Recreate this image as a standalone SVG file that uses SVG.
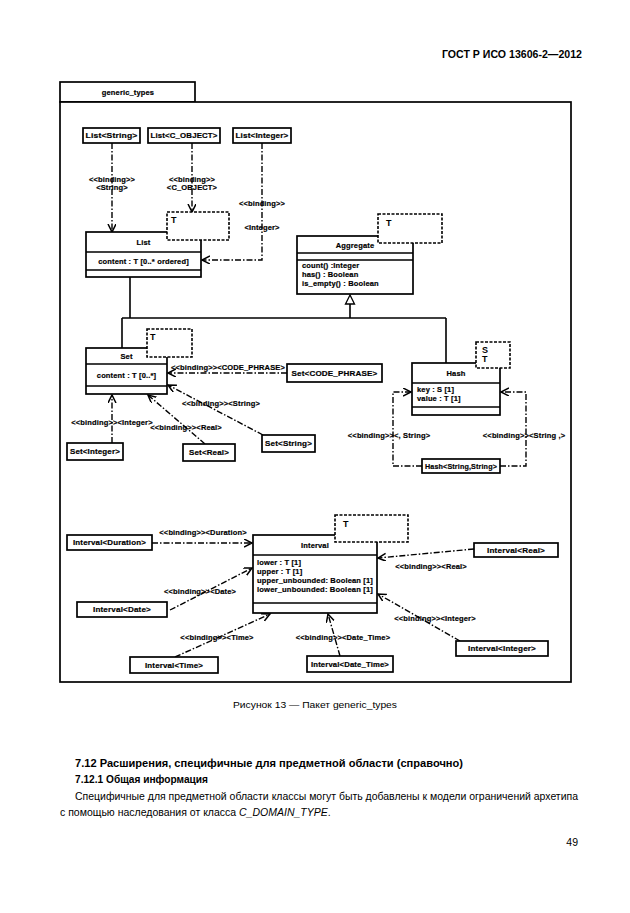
<svg xmlns="http://www.w3.org/2000/svg" width="630" height="913" viewBox="0 0 630 913">
<style>
.bg{fill:#fff}
.box{fill:#fff;stroke:#000;stroke-width:1.7}
.ln{fill:none;stroke:#000;stroke-width:1.4}
.tmpl{fill:#fff;stroke:#000;stroke-width:1.6;stroke-dasharray:3,1.5}
.dep{fill:none;stroke:#000;stroke-width:1.4;stroke-dasharray:6,2,1.5,2}
.gen{fill:none;stroke:#000;stroke-width:1.6}
.t{font-family:"Liberation Sans",Arial,sans-serif;font-size:7.5px;font-weight:bold;fill:#000;stroke:#000;stroke-width:0.2;letter-spacing:0.15px}
.tt{font-family:"Liberation Sans",Arial,sans-serif;font-size:9px;font-weight:bold;fill:#000}
.c{text-anchor:middle}
.cap{font-family:"Liberation Sans",Arial,sans-serif;font-size:9px;fill:#000}
.hd{font-family:"Liberation Sans",Arial,sans-serif;font-size:10.5px;font-weight:bold;fill:#000}
.bd{font-family:"Liberation Sans",Arial,sans-serif;font-size:10.5px;fill:#000}
.b{font-weight:bold}
</style>
<defs>
<marker id="arr" markerUnits="userSpaceOnUse" markerWidth="10" markerHeight="10" refX="8" refY="4" orient="auto">
<path d="M0,0 L8,4 L0,8" fill="none" stroke="#000" stroke-width="1.5"/>
</marker>
</defs>
<rect class="bg" x="0" y="0" width="630" height="913"/>
<text class="hd" x="582" y="58" text-anchor="end" textLength="140" lengthAdjust="spacingAndGlyphs">ГОСТ Р ИСО 13606-2—2012</text>

<g id="package">
<rect class="box" x="60" y="82" width="135" height="20"/>
<rect class="box" x="60" y="102" width="511" height="580" fill="none"/>
<text class="t c" x="128" y="95">generic_types</text>
</g>

<g id="connectors">
<path class="gen" d="M130,277 V318 M122,318 H446 M122,318 V348 M446,318 V363 M350,304 V318"/>
<polygon points="350,295 345.5,304 354.5,304" fill="#fff" stroke="#000" stroke-width="1.3"/>
<path class="dep" d="M112,143 V232" marker-end="url(#arr)"/>
<path class="dep" d="M192,143 V212" marker-end="url(#arr)"/>
<path class="dep" d="M262,143 V260 H202" marker-end="url(#arr)"/>
<path class="dep" d="M287,373 H168" marker-end="url(#arr)"/>
<path class="dep" d="M263,435 L168,385" marker-end="url(#arr)"/>
<path class="dep" d="M112,443 V395" marker-end="url(#arr)"/>
<path class="dep" d="M205,444 L148,395" marker-end="url(#arr)"/>
<path class="dep" d="M422,466 H393 V392 H411" marker-end="url(#arr)"/>
<path class="dep" d="M500,466 H526 V392 H501" marker-end="url(#arr)"/>
<path class="dep" d="M152,543 H252" marker-end="url(#arr)"/>
<path class="dep" d="M170,610 L252,568" marker-end="url(#arr)"/>
<path class="dep" d="M175,657 L270,614" marker-end="url(#arr)"/>
<path class="dep" d="M340,656 L328,614" marker-end="url(#arr)"/>
<path class="dep" d="M474,549 L378,558" marker-end="url(#arr)"/>
<path class="dep" d="M460,641 L378,594" marker-end="url(#arr)"/>
<g class="t c">
<text x="112" y="182">&lt;&lt;binding&gt;&gt;</text>
<text x="112" y="190">&lt;String&gt;</text>
<text x="192" y="182">&lt;&lt;binding&gt;&gt;</text>
<text x="192" y="190">&lt;C_OBJECT&gt;</text>
<text x="262" y="206">&lt;&lt;binding&gt;&gt;</text>
<text x="262" y="230">&lt;Integer&gt;</text>
<text x="228" y="370">&lt;&lt;binding&gt;&gt;&lt;CODE_PHRASE&gt;</text>
<text x="221" y="406">&lt;&lt;binding&gt;&gt;&lt;String&gt;</text>
<text x="112" y="425">&lt;&lt;binding&gt;&gt;&lt;Integer&gt;</text>
<text x="186" y="430">&lt;&lt;binding&gt;&gt;&lt;Real&gt;</text>
<text x="389" y="438">&lt;&lt;binding&gt;&gt;&lt;, String&gt;</text>
<text x="524" y="438">&lt;&lt;binding&gt;&gt;&lt;String ,&gt;</text>
<text x="203" y="535">&lt;&lt;binding&gt;&gt;&lt;Duration&gt;</text>
<text x="200" y="594">&lt;&lt;binding&gt;&gt;&lt;Date&gt;</text>
<text x="217" y="640">&lt;&lt;binding&gt;&gt;&lt;Time&gt;</text>
<text x="343" y="640">&lt;&lt;binding&gt;&gt;&lt;Date_Time&gt;</text>
<text x="431" y="569">&lt;&lt;binding&gt;&gt;&lt;Real&gt;</text>
<text x="435" y="621">&lt;&lt;binding&gt;&gt;&lt;Integer&gt;</text>
</g>
</g>

<g id="List">
<rect class="box" x="86" y="232" width="115" height="45"/>
<path class="ln" d="M86,252 H201 M86,270 H201"/>
<text class="t c" x="143.5" y="245">List</text>
<text class="t c" x="143.5" y="264">content : T [0..* ordered]</text>
<rect class="tmpl" x="167" y="212" width="62" height="28"/>
<text class="tt" x="171" y="223">T</text>
</g>

<g id="Aggregate">
<rect class="box" x="297" y="236" width="116" height="58"/>
<path class="ln" d="M297,253 H413 M297,260 H413"/>
<text class="t c" x="355" y="248">Aggregate</text>
<text class="t" x="302" y="268">count() :Integer</text>
<text class="t" x="302" y="277">has() : Boolean</text>
<text class="t" x="302" y="286">is_empty() : Boolean</text>
<rect class="tmpl" x="378" y="214" width="64" height="29"/>
<text class="tt" x="386" y="226">T</text>
</g>

<g id="Set">
<rect class="box" x="86" y="348" width="81" height="46"/>
<path class="ln" d="M86,364 H167 M86,386 H167"/>
<text class="t c" x="126.5" y="359">Set</text>
<text class="t c" x="126.5" y="378">content : T [0..*]</text>
<rect class="tmpl" x="147" y="329" width="45" height="28"/>
<text class="tt" x="150" y="340">T</text>
</g>

<g id="Hash">
<rect class="box" x="412" y="363" width="88" height="52"/>
<path class="ln" d="M412,383 H500 M412,407 H500"/>
<text class="t c" x="456" y="376">Hash</text>
<text class="t" x="417" y="392">key : S [1]</text>
<text class="t" x="417" y="401">value : T [1]</text>
<rect class="tmpl" x="476" y="342" width="34" height="26"/>
<text class="tt" x="482" y="352.5" font-size="8">S</text>
<text class="tt" x="482" y="362" font-size="8">T</text>
</g>

<g id="Interval">
<rect class="box" x="253" y="535" width="124" height="78"/>
<path class="ln" d="M253,555 H377 M253,603 H377"/>
<text class="t c" x="315" y="548">Interval</text>
<text class="t" x="257" y="565">lower : T [1]</text>
<text class="t" x="257" y="574">upper : T [1]</text>
<text class="t" x="257" y="583" textLength="116" lengthAdjust="spacingAndGlyphs">upper_unbounded: Boolean [1]</text>
<text class="t" x="257" y="592" textLength="116" lengthAdjust="spacingAndGlyphs">lower_unbounded: Boolean [1]</text>
<rect class="tmpl" x="335" y="515" width="73" height="27"/>
<text class="tt" x="343" y="527">T</text>
</g>

<g id="List_String"><rect class="box" x="83" y="128" width="57" height="15"/><text class="t c" x="111.5" y="138" textLength="52" lengthAdjust="spacingAndGlyphs">List&lt;String&gt;</text></g>
<g id="List_C_OBJECT"><rect class="box" x="148" y="128" width="72" height="15"/><text class="t c" x="184" y="138" textLength="67" lengthAdjust="spacingAndGlyphs">List&lt;C_OBJECT&gt;</text></g>
<g id="List_Integer"><rect class="box" x="233" y="128" width="58" height="15"/><text class="t c" x="262" y="138" textLength="53" lengthAdjust="spacingAndGlyphs">List&lt;Integer&gt;</text></g>
<g id="Set_CODE_PHRASE"><rect class="box" x="287" y="364" width="95" height="18"/><text class="t c" x="334.5" y="375.5" textLength="86" lengthAdjust="spacingAndGlyphs">Set&lt;CODE_PHRASE&gt;</text></g>
<g id="Set_String"><rect class="box" x="262" y="435" width="53" height="17"/><text class="t c" x="288.5" y="446" textLength="47" lengthAdjust="spacingAndGlyphs">Set&lt;String&gt;</text></g>
<g id="Set_Integer"><rect class="box" x="67" y="443" width="56" height="17"/><text class="t c" x="95" y="454" textLength="50" lengthAdjust="spacingAndGlyphs">Set&lt;Integer&gt;</text></g>
<g id="Set_Real"><rect class="box" x="183" y="444" width="52" height="17"/><text class="t c" x="209" y="455" textLength="40" lengthAdjust="spacingAndGlyphs">Set&lt;Real&gt;</text></g>
<g id="Hash_String_String"><rect class="box" x="422" y="459" width="78" height="14"/><text class="t c" x="461" y="468.5" textLength="72" lengthAdjust="spacingAndGlyphs">Hash&lt;String,String&gt;</text></g>
<g id="Interval_Duration"><rect class="box" x="67" y="535" width="85" height="15"/><text class="t c" x="109.5" y="545" textLength="73" lengthAdjust="spacingAndGlyphs">Interval&lt;Duration&gt;</text></g>
<g id="Interval_Real"><rect class="box" x="474" y="543" width="84" height="14"/><text class="t c" x="516" y="552.5" textLength="58" lengthAdjust="spacingAndGlyphs">Interval&lt;Real&gt;</text></g>
<g id="Interval_Date"><rect class="box" x="77" y="602" width="90" height="15"/><text class="t c" x="122" y="612" textLength="58" lengthAdjust="spacingAndGlyphs">Interval&lt;Date&gt;</text></g>
<g id="Interval_Time"><rect class="box" x="130" y="657" width="88" height="16"/><text class="t c" x="174" y="667.5" textLength="58" lengthAdjust="spacingAndGlyphs">Interval&lt;Time&gt;</text></g>
<g id="Interval_Date_Time"><rect class="box" x="307" y="656" width="86" height="16"/><text class="t c" x="350" y="666.5" textLength="78" lengthAdjust="spacingAndGlyphs">Interval&lt;Date_Time&gt;</text></g>
<g id="Interval_Integer"><rect class="box" x="456" y="641" width="92" height="15"/><text class="t c" x="502" y="651" textLength="68" lengthAdjust="spacingAndGlyphs">Interval&lt;Integer&gt;</text></g>

<text class="cap" x="233" y="708" textLength="164" lengthAdjust="spacingAndGlyphs">Рисунок 13 — Пакет generic_types</text>
<text class="bd b" x="75" y="767" textLength="388" lengthAdjust="spacingAndGlyphs">7.12 Расширения, специфичные для предметной области (справочно)</text>
<text class="bd b" x="75" y="783" textLength="133" lengthAdjust="spacingAndGlyphs">7.12.1 Общая информация</text>
<text class="bd" x="75" y="800" textLength="503" lengthAdjust="spacingAndGlyphs">Специфичные для предметной области классы могут быть добавлены к модели ограничений архетипа</text>
<text class="bd" x="60" y="816">с помощью наследования от класса <tspan font-style="italic">C_DOMAIN_TYPE</tspan>.</text>
<text class="bd" x="578" y="846" text-anchor="end">49</text>
</svg>
